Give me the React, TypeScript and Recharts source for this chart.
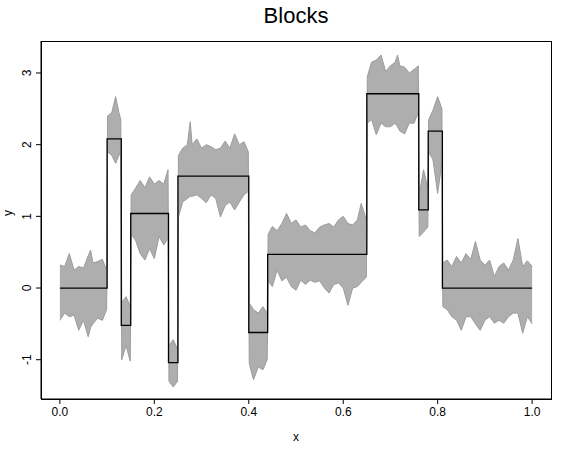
import React from "react";
import { ComposedChart, Line, Area, XAxis, YAxis } from "recharts";

// block function: break points and levels
const stepX = [0, 0.1, 0.13, 0.15, 0.23, 0.25, 0.4, 0.44, 0.65, 0.76, 0.78, 0.81, 1.0];
const stepY = [0, 2.08, -0.52, 1.04, -1.04, 1.56, -0.62, 0.47, 2.71, 1.09, 2.19, 0, 0];

// noisy observations, read as upper / lower envelope
const noiseX = [
  0, 0.01, 0.02, 0.03, 0.04, 0.05, 0.06, 0.065, 0.07, 0.08, 0.09, 0.099,
  0.101, 0.11, 0.118, 0.125, 0.129,
  0.131, 0.14, 0.149,
  0.151, 0.16, 0.17, 0.18, 0.19, 0.2, 0.21, 0.22, 0.229,
  0.231, 0.24, 0.249,
  0.251, 0.26, 0.27, 0.276, 0.28, 0.29, 0.3, 0.31, 0.32, 0.33, 0.34, 0.35, 0.36, 0.37, 0.38, 0.39, 0.399,
  0.401, 0.41, 0.42, 0.43, 0.439,
  0.441, 0.45, 0.46, 0.47, 0.48, 0.49, 0.5, 0.51, 0.52, 0.53, 0.54, 0.55, 0.56, 0.57, 0.58, 0.59, 0.6, 0.61, 0.62, 0.63, 0.638, 0.649,
  0.651, 0.66, 0.67, 0.68, 0.69, 0.7, 0.71, 0.715, 0.72, 0.73, 0.74, 0.75, 0.759,
  0.761, 0.77, 0.779,
  0.781, 0.79, 0.8, 0.809,
  0.811, 0.82, 0.83, 0.84, 0.85, 0.86, 0.87, 0.88, 0.89, 0.9, 0.91, 0.92, 0.93, 0.94, 0.95, 0.96, 0.97, 0.98, 0.99, 1.0,
];
const noiseHigh = [
  0.32, 0.3, 0.48, 0.25, 0.3, 0.28, 0.45, 0.53, 0.35, 0.37, 0.4, 0.25,
  2.4, 2.45, 2.67, 2.45, 2.35,
  -0.2, -0.12, -0.25,
  1.3, 1.39, 1.5, 1.4, 1.55, 1.45, 1.5, 1.45, 1.65,
  -0.8, -0.72, -0.85,
  1.85, 1.95, 2.0, 2.32, 2.0, 2.08, 1.95, 2.0, 1.97, 1.93, 1.95, 2.05, 1.95, 2.15, 2.0, 2.04, 1.9,
  -0.21, -0.3, -0.35, -0.26, -0.35,
  0.75, 0.86, 0.8, 0.9, 1.04, 0.9, 0.95, 0.85, 0.88, 0.8, 0.77, 0.85, 0.88, 0.9, 0.85, 0.95, 1.0, 0.9, 0.88, 0.95, 1.18, 0.95,
  2.95, 3.15, 3.18, 3.25, 3.02, 3.1, 3.15, 3.25, 3.1, 3.08, 3.0, 3.05, 3.1,
  1.3, 1.65, 1.4,
  2.35, 2.48, 2.67, 2.5,
  0.35, 0.39, 0.3, 0.44, 0.35, 0.48, 0.4, 0.65, 0.39, 0.32, 0.39, 0.16, 0.3, 0.35, 0.25, 0.39, 0.69, 0.3, 0.38, 0.3,
];
const noiseLow = [
  -0.45, -0.35, -0.4, -0.38, -0.59, -0.45, -0.68, -0.55, -0.5, -0.42, -0.45, -0.3,
  1.9, 1.85, 1.74, 1.85, 1.9,
  -1.0, -0.8, -1.02,
  0.75, 0.67, 0.48, 0.39, 0.55, 0.41, 0.72, 0.6, 0.7,
  -1.3, -1.38, -1.3,
  0.99, 1.2, 1.25, 1.28, 1.28, 1.3, 1.25, 1.19, 1.3, 1.25, 0.99, 1.15, 1.2, 1.09, 1.2, 1.3, 1.35,
  -1.05, -1.28, -1.1, -1.14, -1.0,
  0.1, 0.02, 0.25, 0.1, 0.15, 0.02, -0.03, 0.11, 0.05, 0.11, 0.08, 0.1, 0.0, -0.07, 0.05, 0.07, 0.0, -0.24, 0.0, 0.02, 0.08, 0.15,
  2.3, 2.35, 2.14, 2.3, 2.25, 2.25, 2.3, 2.25, 2.19, 2.15, 2.3, 2.3, 2.45,
  0.72, 0.78, 0.85,
  1.9, 1.79, 1.32, 1.75,
  -0.26, -0.3, -0.4, -0.45, -0.59, -0.4, -0.4, -0.5, -0.59, -0.45, -0.4, -0.49, -0.45, -0.49, -0.4, -0.35, -0.35, -0.63, -0.4, -0.5,
];

const xTicks = [0, 0.2, 0.4, 0.6, 0.8, 1.0];
const yTicks = [-1, 0, 1, 2, 3];

const rows: any[] = [];
stepX.forEach((x, i) => rows.push({ x, step: stepY[i] }));
noiseX.forEach((x, i) => rows.push({ x, band: [noiseLow[i], noiseHigh[i]] }));
rows.sort((a, b) => a.x - b.x);

const font = "'Liberation Sans', Arial, sans-serif";

const YTick = (props: any) => {
  const { y, payload } = props;
  return (
    <text x={31} y={y} transform={`rotate(-90, 31, ${y})`} textAnchor="middle" fontSize={12} fill="#000" fontFamily={font}>
      {payload.value}
    </text>
  );
};

export default function App() {
  return (
    <div style={{ position: "absolute", left: 0, top: 0, width: 572, height: 452, background: "#fff", fontFamily: font }}>
      <div style={{ position: "absolute", top: 3, left: 41, width: 510, textAlign: "center", fontSize: 22 }}>Blocks</div>
      <div style={{ position: "absolute", left: 5, top: 206, fontSize: 12, lineHeight: "14px", transform: "rotate(-90deg)" }}>y</div>
      <ComposedChart width={572} height={452} data={rows} margin={{ top: 41, right: 21, bottom: 13, left: 0 }}>
        <XAxis
          dataKey="x"
          type="number"
          domain={[-0.04, 1.04]}
          ticks={xTicks}
          tickFormatter={(v: number) => v.toFixed(1)}
          allowDataOverflow
          height={40}
          stroke="#000"
          tickSize={5}
          tickMargin={3}
          tick={{ fill: "#000", fontSize: 12, fontFamily: font }}
          label={{ value: "x", position: "insideBottom", offset: -2, fill: "#000", fontSize: 12, fontFamily: font }}
        />
        <YAxis
          type="number"
          domain={[-1.548, 3.446]}
          ticks={yTicks}
          allowDataOverflow
          width={41}
          stroke="#000"
          tickSize={5}
          tick={<YTick />}
        />
        <Area
          dataKey="band"
          type="linear"
          connectNulls
          stroke="#9c9c9c"
          strokeWidth={1}
          fill="#aeaeae"
          fillOpacity={1}
          isAnimationActive={false}
          dot={false}
          activeDot={false}
        />
        <Line
          dataKey="step"
          type="stepAfter"
          connectNulls
          stroke="#000"
          strokeWidth={1.3}
          dot={false}
          activeDot={false}
          isAnimationActive={false}
        />
      </ComposedChart>
      <div style={{ position: "absolute", left: 41, top: 41, width: 511, height: 359, boxSizing: "border-box", border: "1px solid #000", pointerEvents: "none" }} />
    </div>
  );
}
